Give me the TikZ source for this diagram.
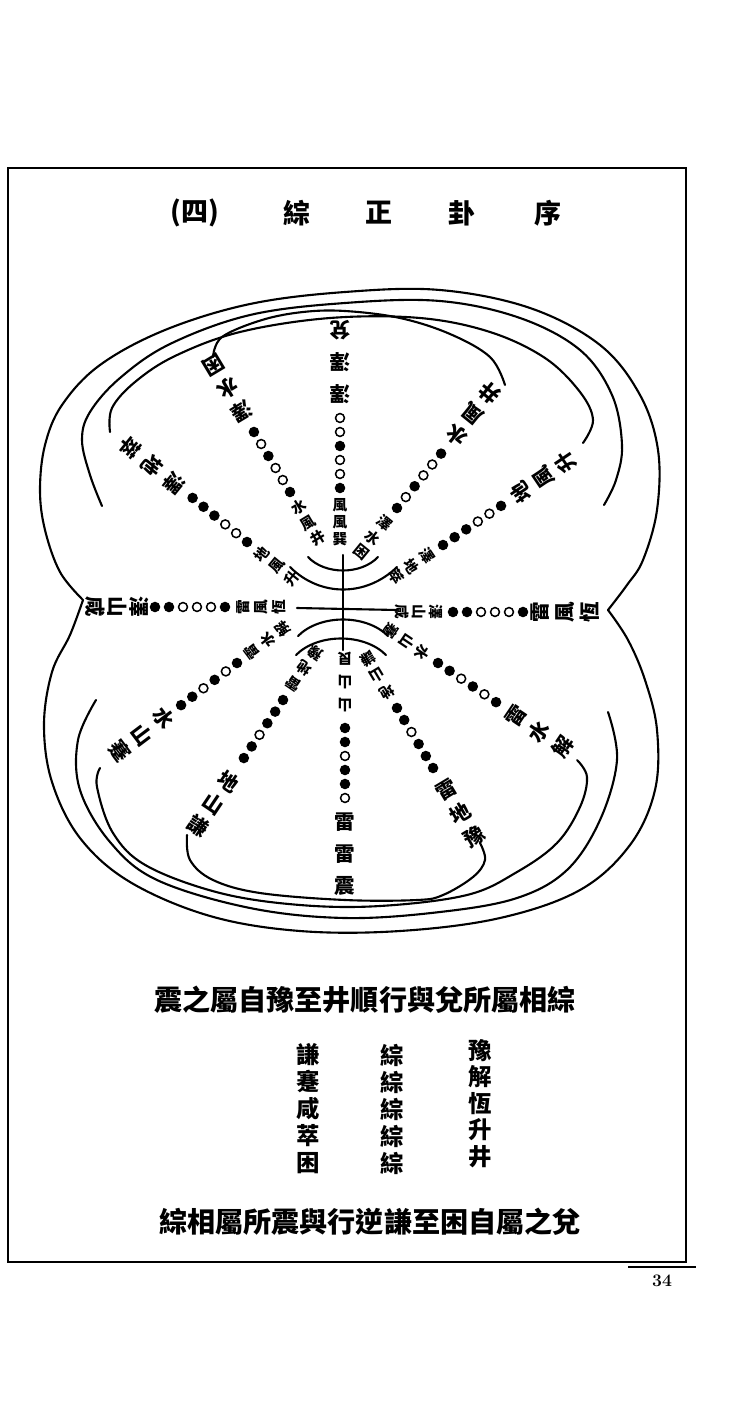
\documentclass[tikz,border=0pt]{standalone}
\usepackage{fontspec}
\newfontfamily\cjk{Noto Sans CJK TC}
\usetikzlibrary{calc}

\begin{document}
\begin{tikzpicture}[x=0.03cm,y=-0.03cm,
    yin/.style={fill=black},
    yang/.style={draw=black,line width=1.3pt},
    ch/.style={font=\cjk\bfseries\fontsize{#1}{#1}\selectfont,inner sep=0pt},
    rim/.style={line width=1.8pt,line cap=round}]
    \useasboundingbox (0,0) rectangle (750,1407);
    %%page_frame
    \draw[line width=1.3pt] (8,168) -- (686,168) -- (686,1262) -- (8,1262) -- cycle;
    \draw[line width=1pt] (628,1267) -- (696,1267);
    \node[font=\bfseries\fontsize{15}{15}\selectfont] (pagenum) at (662,1281) {34};
    %%title
    \node[ch=23] (tnum) at (195,213) {(四)};
    \node[ch=23] (tzong) at (297,213) {綜};
    \node[ch=23] (tzheng) at (379,213) {正};
    \node[ch=23] (tgua) at (462,213) {卦};
    \node[ch=23] (txu) at (548,213) {序};
    %%outer_rim
    \draw[rim] plot[smooth,tension=0.6] coordinates {(83,600) (60,572) (45,530) (40,490) (45,445) (62,405) (100,365) (165,330) (250,304) (345,292) (440,290) (530,308) (600,345) (640,395) (658,450) (657,510) (643,560) (627,585) (608,610)};
    \draw[rim] plot[smooth,tension=0.6] coordinates {(608,610) (628,640) (645,680) (657,730) (655,790) (630,845) (580,890) (500,918) (400,931) (300,931) (210,916) (130,882) (80,838) (52,782) (44,725) (52,672) (70,635) (83,600)};
    %%upper_arcs
    \draw[rim] plot[smooth,tension=0.6] coordinates {(102,506) (90,475) (82,440) (90,412) (120,378) (170,344) (250,315) (345,303) (440,301) (520,318) (580,350) (612,395) (622,445) (616,480) (604,505)};
    \draw[rim] plot[smooth,tension=0.6] coordinates {(110,432) (112,408) (135,382) (175,356) (240,332) (330,318) (420,318) (490,332) (545,358) (580,392) (593,420) (583,443)};
    \draw[rim] plot[smooth,tension=0.6] coordinates {(213,357) (222,337) (262,320) (303,312) (345,311) (400,318) (450,334) (490,357) (505,385)};
    %%lower_arcs
    \draw[rim] plot[smooth,tension=0.6] coordinates {(96,700) (78,740) (80,790) (110,842) (157,880) (250,908) (345,918) (440,912) (517,898) (567,870) (600,820) (617,760) (608,712)};
    \draw[rim] plot[smooth,tension=0.6] coordinates {(100,768) (97,787) (113,833) (147,866) (220,893) (300,905) (380,906) (467,895) (517,872) (557,843) (580,807) (587,777) (577,760)};
    \draw[rim] plot[smooth,tension=0.6] coordinates {(187,835) (190,860) (213,880) (260,893) (345,900) (417,900) (443,895) (473,877) (485,860) (480,843)};
    %%centre
    \draw[rim] (343,555) -- (343,650);
    \draw[rim] (297,608) -- (397,610);
    \draw[rim] (308,557) .. controls (325,575) and (361,575) .. (378,557);
    \draw[rim] (290,567) .. controls (320,597) and (366,597) .. (397,567);
    \draw[rim] (298,636) .. controls (320,614) and (366,614) .. (388,636);
    \draw[rim] (296,655) .. controls (318,633) and (364,633) .. (386,655);
    %%spokes
    \foreach \bx/\by/\ph/\gi/\os/\go/\lin/\lbead/\lout [count=\n] in {
        340/488/90/17/94/32/{風,風,巽}/{1,0,0,1,0,0}/{澤,澤,兌},
        290/492/121/18/94/27/{水,風,井}/{1,0,0,1,0,1}/{澤,水,困},
        247/542/141/19/94/28/{地,風,升}/{1,0,0,1,1,1}/{澤,地,萃},
        397/508/51/19/94/27/{澤,水,困}/{1,0,1,0,0,1}/{水,風,井},
        443/545/34/19/94/27/{澤,地,萃}/{1,1,1,0,0,1}/{地,風,升},
        345/728/270/23/94/32/{山,山,艮}/{1,1,0,1,1,0}/{雷,雷,震},
        283/700/236/19/98/27/{雷,地,豫}/{1,1,1,0,1,1}/{地,山,謙},
        237/663/217/19/92/27/{雷,水,解}/{1,0,1,0,1,1}/{水,山,蹇},
        397/708/301/19/96/27/{地,山,謙}/{1,1,0,1,1,1}/{雷,地,豫},
        438/663/326/19/94/28/{水,山,蹇}/{1,1,0,1,0,1}/{雷,水,解},
        225/607/180/18/86/22/{雷,風,恆}/{1,0,0,0,1,1}/{澤,山,咸},
        453/612/0/17/87/25/{澤,山,咸}/{1,1,0,0,0,1}/{雷,風,恆}}{
        \foreach \c [count=\k] in \lin
            \node[ch=12.5,rotate=\ph-90] (in\n-\k) at ($(\bx,\by)+({-\gi*\k*cos(\ph)},{\gi*\k*sin(\ph)})$) {\c};
        \foreach \b [count=\k] in \lbead {
            \coordinate (bead\n-\k) at ($(\bx,\by)+({14*(\k-1)*cos(\ph)},{-14*(\k-1)*sin(\ph)})$);
            \ifnum\b=1 \fill[yin] (bead\n-\k) circle (4.5pt); \else \draw[yang] (bead\n-\k) circle (3.8pt); \fi
        }
        \foreach \c [count=\k] in \lout
            \node[ch=17.5,rotate=\ph+90] (out\n-\k) at ($(\bx,\by)+({(\os+\go*(\k-1))*cos(\ph)},{-(\os+\go*(\k-1))*sin(\ph)})$) {\c};
    }
    %%rules
    \node[ch=24] (rule1) at (365,1000) {震之屬自豫至井順行與兌所屬相綜};
    \node[ch=24] (rule2) at (370,1222) {綜相屬所震與行逆謙至困自屬之兌};
    \foreach \a/\b [count=\r] in {謙/豫,蹇/解,咸/恆,萃/升,困/井}{
        \node[ch=20] (left\r) at (308,{1028+27*\r}) {\a};
        \node[ch=20] (mid\r) at (392,{1028+27*\r}) {綜};
        \node[ch=20] (right\r) at (480,{1024+26.5*\r}) {\b};
    }
\end{tikzpicture}
\end{document}
